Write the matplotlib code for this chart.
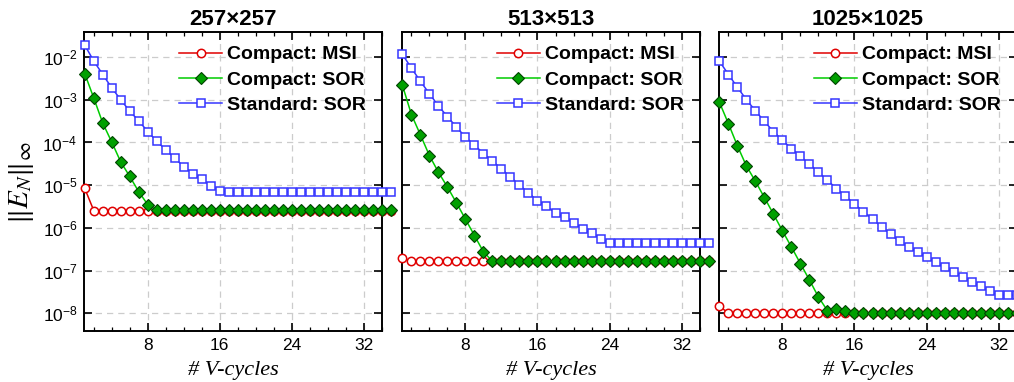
import numpy as np
import matplotlib
matplotlib.use("Agg")
import matplotlib.pyplot as plt
from matplotlib.ticker import FixedLocator, MultipleLocator, FuncFormatter, NullLocator

plt.rcParams['font.family'] = ['Liberation Sans', 'DejaVu Sans']
plt.rcParams['mathtext.fontset'] = 'stix'

# V-cycle index (x axis)
cycles = list(range(1, 36))

grid_titles = ["257\u00d7257", "513\u00d7513", "1025\u00d71025"]

# 257x257
msi_257 = [8.4e-6, 2.55e-6, 2.55e-6, 2.55e-6, 2.55e-6, 2.55e-6, 2.55e-6, 2.55e-6,
           2.55e-6, 2.55e-6, 2.55e-6, 2.55e-6, 2.55e-6, 2.55e-6, 2.55e-6, 2.55e-6,
           2.55e-6, 2.55e-6, 2.55e-6, 2.55e-6, 2.55e-6, 2.55e-6, 2.55e-6, 2.55e-6,
           2.55e-6, 2.55e-6, 2.55e-6, 2.55e-6, 2.55e-6, 2.55e-6, 2.55e-6, 2.55e-6,
           2.55e-6, 2.55e-6, 2.55e-6]
csor_257 = [4.1e-3, 1.1e-3, 2.84e-4, 1.02e-4, 3.5e-5, 1.6e-5, 7.0e-6, 3.5e-6,
            2.6e-6, 2.6e-6, 2.6e-6, 2.6e-6, 2.6e-6, 2.6e-6, 2.6e-6, 2.6e-6,
            2.6e-6, 2.6e-6, 2.6e-6, 2.6e-6, 2.6e-6, 2.6e-6, 2.6e-6, 2.6e-6,
            2.6e-6, 2.6e-6, 2.6e-6, 2.6e-6, 2.6e-6, 2.6e-6, 2.6e-6, 2.6e-6,
            2.6e-6, 2.6e-6, 2.6e-6]
ssor_257 = [1.9e-2, 8.1e-3, 3.9e-3, 1.9e-3, 1.0e-3, 5.4e-4, 3.2e-4, 1.8e-4,
            1.07e-4, 6.7e-5, 4.3e-5, 2.7e-5, 1.85e-5, 1.36e-5, 9.8e-6, 7.2e-6,
            7.0e-6, 7.0e-6, 7.0e-6, 7.0e-6, 7.0e-6, 7.0e-6, 7.0e-6, 7.0e-6,
            7.0e-6, 7.0e-6, 7.0e-6, 7.0e-6, 7.0e-6, 7.0e-6, 7.0e-6, 7.0e-6,
            7.0e-6, 7.0e-6, 7.0e-6]

# 513x513
msi_513 = [2.0e-7, 1.65e-7, 1.65e-7, 1.65e-7, 1.65e-7, 1.65e-7, 1.65e-7, 1.65e-7,
           1.65e-7, 1.65e-7, 1.65e-7, 1.65e-7, 1.65e-7, 1.65e-7, 1.65e-7, 1.65e-7,
           1.65e-7, 1.65e-7, 1.65e-7, 1.65e-7, 1.65e-7, 1.65e-7, 1.65e-7, 1.65e-7,
           1.65e-7, 1.65e-7, 1.65e-7, 1.65e-7, 1.65e-7, 1.65e-7, 1.65e-7, 1.65e-7,
           1.65e-7, 1.65e-7, 1.65e-7]
csor_513 = [2.17e-3, 4.5e-4, 1.5e-4, 4.9e-5, 2.0e-5, 9.0e-6, 3.85e-6, 1.6e-6,
            6.6e-7, 2.74e-7, 1.65e-7, 1.65e-7, 1.65e-7, 1.65e-7, 1.65e-7, 1.65e-7,
            1.65e-7, 1.65e-7, 1.65e-7, 1.65e-7, 1.65e-7, 1.65e-7, 1.65e-7, 1.65e-7,
            1.65e-7, 1.65e-7, 1.65e-7, 1.65e-7, 1.65e-7, 1.65e-7, 1.65e-7, 1.65e-7,
            1.65e-7, 1.65e-7, 1.65e-7]
ssor_513 = [1.15e-2, 5.5e-3, 2.7e-3, 1.38e-3, 7.2e-4, 4.0e-4, 2.3e-4, 1.33e-4,
            8.7e-5, 5.5e-5, 3.65e-5, 2.4e-5, 1.54e-5, 1.0e-5, 6.6e-6, 4.3e-6,
            3.2e-6, 2.25e-6, 1.78e-6, 1.32e-6, 9.6e-7, 7.5e-7, 5.6e-7, 4.5e-7,
            4.5e-7, 4.5e-7, 4.5e-7, 4.5e-7, 4.5e-7, 4.5e-7, 4.5e-7, 4.5e-7,
            4.5e-7, 4.5e-7, 4.5e-7]

# 1025x1025
msi_1025 = [1.48e-8, 1.0e-8, 1.0e-8, 1.0e-8, 1.0e-8, 1.0e-8, 1.0e-8, 1.0e-8,
            1.0e-8, 1.0e-8, 1.0e-8, 1.0e-8, 1.0e-8, 1.0e-8, 1.0e-8, 1.0e-8,
            1.0e-8, 1.0e-8, 1.0e-8, 1.0e-8, 1.0e-8, 1.0e-8, 1.0e-8, 1.0e-8,
            1.0e-8, 1.0e-8, 1.0e-8, 1.0e-8, 1.0e-8, 1.0e-8, 1.0e-8, 1.0e-8,
            1.0e-8, 1.0e-8, 1.0e-8]
csor_1025 = [8.7e-4, 2.75e-4, 8.3e-5, 2.8e-5, 1.23e-5, 5.1e-6, 2.1e-6, 8.5e-7,
             3.55e-7, 1.45e-7, 6.0e-8, 2.4e-8, 1.15e-8, 1.23e-8, 1.12e-8, 1.0e-8,
             1.0e-8, 1.0e-8, 1.0e-8, 1.0e-8, 1.0e-8, 1.0e-8, 1.0e-8, 1.0e-8,
             1.0e-8, 1.0e-8, 1.0e-8, 1.0e-8, 1.0e-8, 1.0e-8, 1.0e-8, 1.0e-8,
             1.0e-8, 1.0e-8, 1.0e-8]
ssor_1025 = [8.0e-3, 3.9e-3, 1.95e-3, 1.0e-3, 5.5e-4, 3.1e-4, 1.8e-4, 1.12e-4,
             7.2e-5, 4.7e-5, 3.1e-5, 2.0e-5, 1.3e-5, 8.3e-6, 5.5e-6, 3.6e-6,
             2.4e-6, 1.6e-6, 1.07e-6, 7.1e-7, 4.8e-7, 3.55e-7, 2.7e-7, 2.05e-7,
             1.55e-7, 1.2e-7, 9.3e-8, 7.1e-8, 5.5e-8, 4.3e-8, 3.25e-8, 2.65e-8,
             2.65e-8, 2.65e-8, 2.65e-8]

panels = [(msi_257, csor_257, ssor_257),
          (msi_513, csor_513, ssor_513),
          (msi_1025, csor_1025, ssor_1025)]

y_ticks = [1e-8, 1e-7, 1e-6, 1e-5, 1e-4, 1e-3, 1e-2]


def pow_label(v, pos):
    return r'$\mathregular{10^{%d}}$' % int(round(np.log10(v)))


def draw_panel(ax, msi, csor, ssor, title, first):
    ax.plot(cycles, msi, '-o', color='#e00000', lw=1.1, ms=6.0, mfc='white',
            mec='#e00000', mew=1.1, clip_on=False, zorder=3, label='Compact: MSI')
    ax.plot(cycles, csor, '-D', color='#00cc00', lw=1.1, ms=6.2, mfc='#00a000',
            mec='#004400', mew=0.8, clip_on=False, zorder=4, label='Compact: SOR')
    ax.plot(cycles, ssor, '-s', color='#3535ff', lw=1.1, ms=5.4, mfc='white',
            mec='#3535ff', mew=1.1, clip_on=False, zorder=5, label='Standard: SOR')

    ax.set_yscale('log')
    ax.set_xlim(0.95, 34.05)
    ax.set_ylim(3.85e-9, 3.8e-2)
    ax.yaxis.set_major_locator(FixedLocator(y_ticks))
    ax.yaxis.set_minor_locator(NullLocator())
    ax.yaxis.set_major_formatter(FuncFormatter(pow_label))
    ax.xaxis.set_major_locator(FixedLocator([8, 16, 24, 32]))
    ax.xaxis.set_minor_locator(MultipleLocator(2))

    ax.tick_params(which='both', direction='in', top=True, right=True,
                   labelsize=12.5)
    ax.tick_params(which='major', length=6, width=1.2, pad=5)
    ax.tick_params(which='minor', length=3, width=0.9)
    if not first:
        ax.tick_params(labelleft=False)
    for s in ax.spines.values():
        s.set_linewidth(1.4)

    ax.grid(True, which='major', color='#cccccc', linestyle=(0, (5, 4)), lw=0.9)
    ax.set_axisbelow(True)
    ax.set_title(title, fontsize=16, fontweight='bold', pad=5)
    ax.set_xlabel('# V-cycles', family='Liberation Serif', fontstyle='italic',
                  fontsize=16, labelpad=6)
    ax.legend(loc='upper right', bbox_to_anchor=(0.945, 0.955), frameon=False,
              prop={'weight': 'bold', 'size': 14}, handlelength=2.2,
              handletextpad=0.25, labelspacing=0.4, borderpad=0, borderaxespad=0)


def main():
    fig = plt.figure(figsize=(10.14, 3.82), dpi=100)
    lefts = [84.3, 402, 719]
    for i, (msi, csor, ssor) in enumerate(panels):
        ax = fig.add_axes([lefts[i] / 1014, 1 - 331 / 382, 298 / 1014, (331 - 32.3) / 382])
        draw_panel(ax, msi, csor, ssor, grid_titles[i], i == 0)
    fig.text(22 / 1014, 1 - 183 / 382, r'$\|E_N\|_\infty$', rotation=90,
             fontsize=21, ha='center', va='center')
    fig.savefig('out.png', dpi=100)


if __name__ == "__main__":
    main()
